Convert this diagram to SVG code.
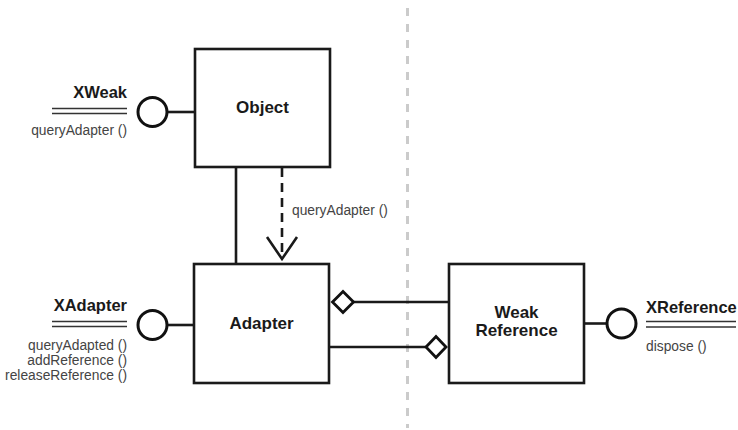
<svg xmlns="http://www.w3.org/2000/svg" width="738" height="430" viewBox="0 0 738 430">
<style>
.box{fill:#fff;stroke:#1a1a1a;stroke-width:2.6}
.ln{fill:none;stroke:#1a1a1a;stroke-width:2.6}
.lol{fill:#fff;stroke:#111;stroke-width:3}
.dbl{stroke:#333;stroke-width:1.6}
.name{font-family:"Liberation Sans",Arial,sans-serif;font-weight:bold;font-size:16.5px;fill:#1a1a1a}
.title{font-family:"Liberation Sans",Arial,sans-serif;font-weight:bold;font-size:17px;fill:#1a1a1a;text-anchor:middle}
.meth{font-family:"Liberation Sans",Arial,sans-serif;font-size:13.8px;fill:#444}
.r{text-anchor:end}
.diam{fill:#fff;stroke:#111;stroke-width:2.8}
</style>
<line x1="407.5" y1="8" x2="407.5" y2="428" stroke="#cbcbcb" stroke-width="3" stroke-dasharray="8 8"/>
<g id="connectors">
<line class="ln" x1="236" y1="167" x2="236" y2="264"/>
<line class="ln" x1="282" y1="168" x2="282" y2="257" stroke-width="3" stroke-dasharray="9 6"/>
<polyline class="ln" points="267,237 282,259 297,237" stroke-width="3"/>
<text class="meth" x="292" y="215">queryAdapter ()</text>
<line class="ln" x1="168" y1="112" x2="195" y2="112"/>
<line class="ln" x1="168" y1="325" x2="194" y2="325"/>
<line class="ln" x1="584" y1="323.5" x2="606" y2="323.5"/>
<line class="ln" x1="353" y1="302" x2="449" y2="302"/>
<polygon class="diam" points="332.5,302 343,291.5 353.5,302 343,312.5"/>
<line class="ln" x1="329" y1="347" x2="426" y2="347"/>
<polygon class="diam" points="426,347 436,336.5 446,347 436,357.5"/>
</g>
<g id="object">
<rect class="box" x="195" y="49" width="135" height="118"/>
<text class="title" x="262.5" y="113">Object</text>
</g>
<g id="adapter">
<rect class="box" x="194" y="264" width="135" height="119"/>
<text class="title" x="261.5" y="329">Adapter</text>
</g>
<g id="weakref">
<rect class="box" x="449" y="264" width="135" height="119"/>
<text class="title" x="516.5" y="318">Weak</text>
<text class="title" x="516.5" y="336">Reference</text>
</g>
<g id="xweak">
<circle class="lol" cx="152.5" cy="112" r="14.5"/>
<text class="name r" x="127" y="98">XWeak</text>
<line class="dbl" x1="52" y1="108.5" x2="127" y2="108.5"/>
<line class="dbl" x1="52" y1="113.5" x2="127" y2="113.5"/>
<text class="meth r" x="127" y="135">queryAdapter ()</text>
</g>
<g id="xadapter">
<circle class="lol" cx="152.5" cy="325" r="14.5"/>
<text class="name r" x="127" y="311">XAdapter</text>
<line class="dbl" x1="52" y1="321.5" x2="127" y2="321.5"/>
<line class="dbl" x1="52" y1="326.5" x2="127" y2="326.5"/>
<text class="meth r" x="127" y="350">queryAdapted ()</text>
<text class="meth r" x="127" y="365">addReference ()</text>
<text class="meth r" x="127" y="380">releaseReference ()</text>
</g>
<g id="xreference">
<circle class="lol" cx="621.5" cy="323.5" r="14.5"/>
<text class="name" x="646" y="313">XReference</text>
<line class="dbl" x1="646" y1="321.5" x2="736" y2="321.5"/>
<line class="dbl" x1="646" y1="327" x2="736" y2="327"/>
<text class="meth" x="646" y="351">dispose ()</text>
</g>
</svg>
